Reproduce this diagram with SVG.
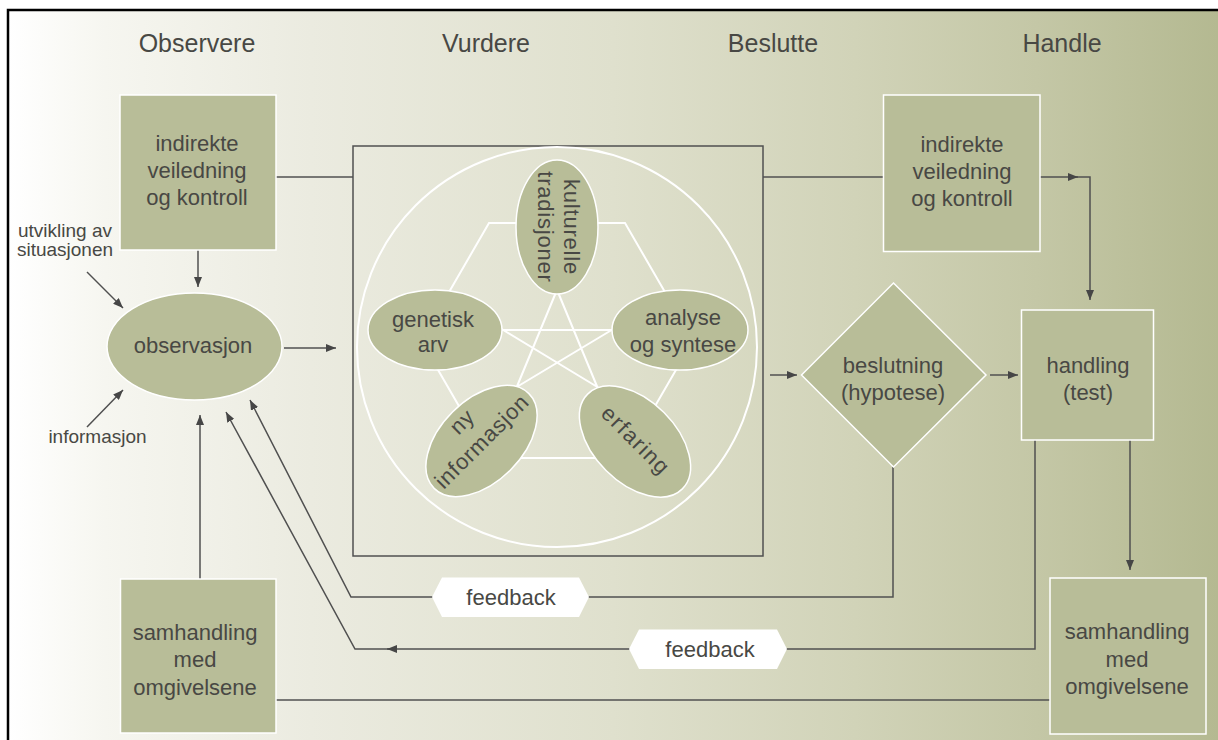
<svg xmlns="http://www.w3.org/2000/svg" width="1218" height="740" viewBox="0 0 1218 740">
<defs>
<linearGradient id="bg" gradientUnits="userSpaceOnUse" x1="8" y1="0" x2="1218" y2="0">
<stop offset="0" stop-color="#ffffff"/>
<stop offset="0.08" stop-color="#f6f6f0"/>
<stop offset="0.25" stop-color="#ebebe0"/>
<stop offset="0.5" stop-color="#dfe0cd"/>
<stop offset="0.7" stop-color="#d1d3b8"/>
<stop offset="0.85" stop-color="#c4c7a6"/>
<stop offset="1" stop-color="#b4b991"/>
</linearGradient>
<marker id="ah" viewBox="0 0 10 8" refX="10" refY="4" markerWidth="10" markerHeight="8" markerUnits="userSpaceOnUse" orient="auto">
<path d="M0,0 L10,4 L0,8 z" fill="#464646"/>
</marker>
<style>
text{font-family:"Liberation Sans",Arial,sans-serif;fill:#484844;text-anchor:middle}
.hd{font-size:25px}
.t{font-size:22px}
.s{font-size:19px}
.ls{letter-spacing:0.8px}
.ls2{letter-spacing:1.6px}
.box{fill:#b8bd98;stroke:#ffffff;stroke-width:1.5}
.ln{fill:none;stroke:#505050;stroke-width:1.5}
.ar{fill:none;stroke:#505050;stroke-width:1.5;marker-end:url(#ah)}
.wl{fill:none;stroke:#ffffff;stroke-width:2}
.lbl{fill:#ffffff}
</style>
</defs>
<rect x="0" y="0" width="1218" height="740" fill="#ffffff"/>
<rect x="8" y="10" width="1215" height="735" fill="url(#bg)" stroke="#000000" stroke-width="2.5"/>

<g id="headers">
<text class="hd" x="197" y="52">Observere</text>
<text class="hd" x="486" y="52">Vurdere</text>
<text class="hd" x="773" y="52">Beslutte</text>
<text class="hd" x="1062" y="52">Handle</text>
</g>

<g id="connectors">
<path class="ln" d="M276,177 H353"/>
<path class="ln" d="M763,177 H883"/>
<path class="ar" d="M1040,177 H1090 V300"/>
<path class="ar" d="M1068,177 H1078"/>
<path class="ar" d="M198,250 V287"/>
<path class="ar" d="M87,272 L123,308"/>
<path class="ar" d="M87,427 L123,390"/>
<path class="ar" d="M284,348 H336"/>
<path class="ar" d="M770,375 H797"/>
<path class="ar" d="M990,375 H1018"/>
<path class="ar" d="M200,579 V415"/>
<path class="ar" d="M893,467 V597 H351 L250,400"/>
<path class="ar" d="M1035,440 V649 H355 L226,412"/>
<path class="ar" d="M397,649 H387"/>
<path class="ar" d="M1130,440 V570"/>
<path class="ln" d="M276,700 H1050"/>
<g id="feedback1">
<polygon class="lbl" points="432,597 442,577.5 579,577.5 589,597 579,617 442,617"/>
<text class="t" x="511" y="604.5">feedback</text>
</g>
<g id="feedback2">
<polygon class="lbl" points="629,649 639,629.5 777,629.5 787,649 777,669 639,669"/>
<text class="t" x="710" y="656.5">feedback</text>
</g>
</g>

<g id="label-utvikling">
<text class="s" x="65" y="237">utvikling av</text>
<text class="s" x="65" y="256">situasjonen</text>
</g>
<g id="label-informasjon">
<text class="s" x="97.5" y="443">informasjon</text>
</g>

<g id="indirekte-left">
<rect class="box" x="120" y="95" width="156" height="155"/>
<text class="t" x="197" y="151">indirekte</text>
<text class="t" x="197" y="178">veiledning</text>
<text class="t" x="197" y="205">og kontroll</text>
</g>

<g id="observasjon">
<ellipse class="box" cx="194.5" cy="346.5" rx="87.5" ry="53.5"/>
<text class="t" x="193" y="353">observasjon</text>
</g>

<g id="samhandling-left">
<rect class="box" x="120.5" y="579" width="155.5" height="154"/>
<text class="t" x="195" y="640">samhandling</text>
<text class="t" x="195" y="667">med</text>
<text class="t" x="195" y="695">omgivelsene</text>
</g>

<g id="vurdere">
<rect x="353" y="146" width="410" height="410" fill="none" stroke="#505050" stroke-width="1.5"/>
<circle class="wl" cx="557" cy="347" r="200"/>
<polygon class="wl" points="489,223 625,223 693,340.5 625,458 489,458 421,340.5"/>
<path class="wl" d="M559,285 L513,396 M555,285 L601,396 M495,330 H620 M495,325 L604,391 M620,325 L510,391"/>
<g id="kulturelle">
<ellipse class="box" cx="557" cy="227" rx="41" ry="67"/>
<g transform="translate(557,227) rotate(90)">
<text class="t ls" x="0" y="-7">kulturelle</text>
<text class="t ls" x="0" y="19">tradisjoner</text>
</g>
</g>
<g id="genetisk">
<ellipse class="box" cx="435" cy="330" rx="67" ry="40"/>
<text class="t" x="433" y="327">genetisk</text>
<text class="t" x="433" y="352">arv</text>
</g>
<g id="analyse">
<ellipse class="box" cx="680" cy="330" rx="68" ry="40"/>
<text class="t" x="683" y="325">analyse</text>
<text class="t" x="683" y="352">og syntese</text>
</g>
<g id="nyinformasjon">
<ellipse class="box" cx="0" cy="0" rx="67" ry="41" transform="translate(481.5,441) rotate(-45)"/>
<g transform="translate(481.5,441) rotate(-45)">
<text class="t ls" x="0" y="-20">ny</text>
<text class="t ls" x="0" y="8">informasjon</text>
</g>
</g>
<g id="erfaring">
<ellipse class="box" cx="0" cy="0" rx="67" ry="41" transform="translate(635,441.5) rotate(45)"/>
<g transform="translate(635,441.5) rotate(45)">
<text class="t ls2" x="0" y="6">erfaring</text>
</g>
</g>
</g>

<g id="indirekte-right">
<rect class="box" x="883.5" y="95" width="156.5" height="156.5"/>
<text class="t" x="962" y="152">indirekte</text>
<text class="t" x="962" y="179">veiledning</text>
<text class="t" x="962" y="206">og kontroll</text>
</g>

<g id="beslutning">
<polygon class="box" points="893.5,283 986,375 893.5,467 801.5,375"/>
<text class="t" x="893" y="373">beslutning</text>
<text class="t" x="893" y="400">(hypotese)</text>
</g>

<g id="handling">
<rect class="box" x="1021.5" y="310" width="132" height="130"/>
<text class="t" x="1088" y="373">handling</text>
<text class="t" x="1088" y="400">(test)</text>
</g>

<g id="samhandling-right">
<rect class="box" x="1050" y="578" width="156" height="156"/>
<text class="t" x="1127" y="639">samhandling</text>
<text class="t" x="1127" y="667">med</text>
<text class="t" x="1127" y="694">omgivelsene</text>
</g>
</svg>
